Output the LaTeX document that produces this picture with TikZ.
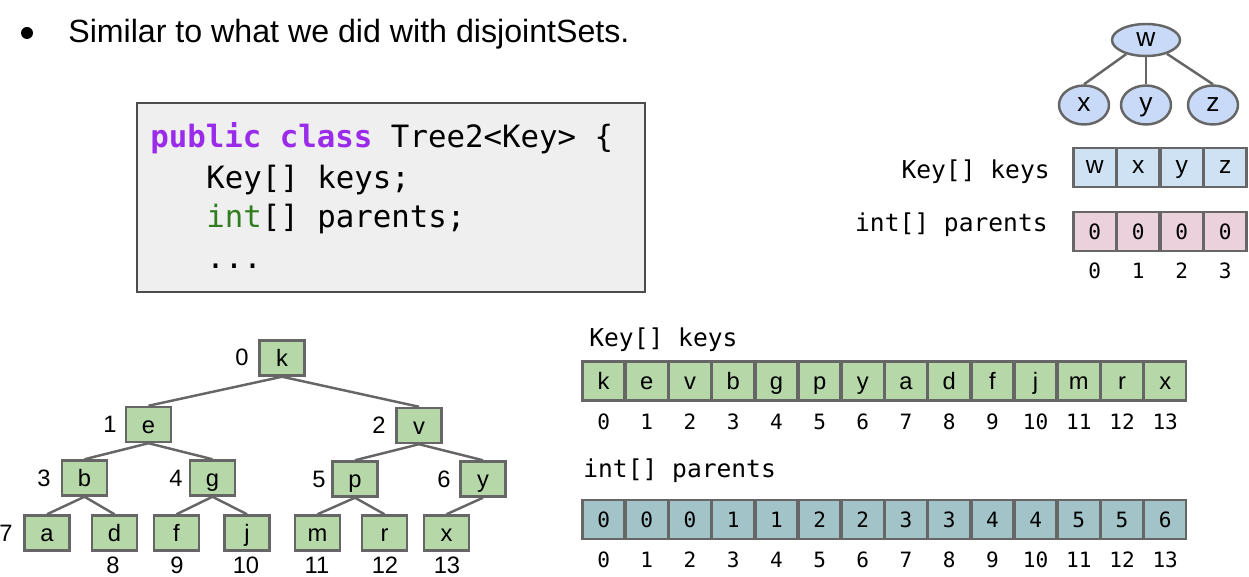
\documentclass[tikz,border=0pt]{standalone}
\usepackage{fontspec}
\setmainfont{Liberation Sans}
\setmonofont{DejaVu Sans Mono}
\usetikzlibrary{shapes.geometric}

\definecolor{linegray}{HTML}{666666}
\definecolor{keygreen}{HTML}{B6D7A8}
\definecolor{parentteal}{HTML}{A2C4C9}
\definecolor{nodeblue}{HTML}{C9DAF8}
\definecolor{smallblue}{HTML}{CFE2F3}
\definecolor{smallpink}{HTML}{EAD1DC}
\definecolor{codebg}{HTML}{EFEFEF}
\definecolor{kwpurple}{HTML}{9B2BEA}
\definecolor{intgreen}{HTML}{2F7D1F}

\tikzset{
  treebox/.style={draw=linegray, fill=keygreen, line width=1.4pt, minimum width=0.9cm, minimum height=0.7cm, inner sep=0pt, text height=9.8pt, text depth=0pt, font=\fontsize{13.5}{13.5}\selectfont},
  treeedge/.style={draw=linegray, line width=1.4pt},
  idxlabel/.style={inner sep=0pt, text height=9.8pt, text depth=0pt, font=\fontsize{13.5}{13.5}\selectfont},
  cell/.style={draw=linegray, line width=1.4pt, minimum width=0.84cm, minimum height=0.78cm, inner sep=0pt},
  keycell/.style={cell, fill=keygreen, text height=9.8pt, text depth=0pt, font=\fontsize{13.5}{13.5}\selectfont},
  parcell/.style={cell, fill=parentteal, font=\ttfamily\fontsize{12}{12}\selectfont},
  monoidx/.style={inner sep=0pt, font=\ttfamily\fontsize{12}{12}\selectfont},
  monolabel/.style={inner sep=0pt, font=\ttfamily\fontsize{14}{14}\selectfont},
  blob/.style={ellipse, draw=linegray, fill=nodeblue, line width=1.4pt, inner sep=0pt, text height=7.9pt, text depth=0pt, font=\fontsize{15}{15}\selectfont},
  codeline/.style={anchor=base west, inner sep=0pt, font=\ttfamily\fontsize{17.5}{17.5}\selectfont}
}

\begin{document}
\begin{tikzpicture}[x=0.02cm, y=-0.02cm]
\useasboundingbox (0,0) rectangle (1249,577);

% bullet line
\node[circle, fill=black, inner sep=0pt, minimum size=0.24cm] (bullet) at (27,33) {};
\node[anchor=base west, inner sep=0pt, font=\fontsize{18.3}{18.3}\selectfont] (intro) at (68,43) {Similar to what we did with disjointSets.};

% code box
\draw[fill=codebg, draw=black!70, line width=0.6pt] (137,103) rectangle (645,292);
\node[codeline] (code1) at (150,148) {\textcolor{kwpurple}{\bfseries public class} Tree2<Key> \{};
\node[codeline] (code2) at (206,189) {Key[] keys;};
\node[codeline] (code3) at (206,228) {\textcolor{intgreen}{int}[] parents;};
\node[codeline] (code4) at (206,269) {...};

% small tree
\node[blob, minimum width=1.36cm, minimum height=0.64cm] (w) at (1146,40) {w};
\node[blob, minimum width=1.0cm, minimum height=0.78cm] (nx) at (1084,105) {x};
\node[blob, minimum width=1.0cm, minimum height=0.78cm] (ny) at (1146,105) {y};
\node[blob, minimum width=1.0cm, minimum height=0.78cm] (nz) at (1213,105) {z};
\draw[treeedge] (w) -- (nx.north);
\draw[treeedge] (w) -- (ny.north);
\draw[treeedge] (w) -- (nz.north);

% small arrays
\node[monolabel, anchor=east] (smallkeys) at (1050,172) {Key[] keys};
\node[monolabel, anchor=east] (smallparents) at (1048,225) {int[] parents};
\foreach \v [count=\i from 0] in {w,x,y,z} {
  \node[cell, fill=smallblue, minimum width=0.85cm, text height=7.3pt, text depth=0pt, font=\fontsize{14}{14}\selectfont] (sk\i) at ({1073+43.5*(\i+0.5)},167.5) {\v};
  \node[cell, fill=smallpink, minimum width=0.85cm, font=\ttfamily\fontsize{12}{12}\selectfont] (sp\i) at ({1073+43.5*(\i+0.5)},231.5) {0};
  \node[monoidx] (si\i) at ({1073+43.5*(\i+0.5)},271) {\i};
}

% big tree
\node[treebox] (tk) at (282,358) {k};
\node[treebox] (te) at (148.5,424.5) {e};
\node[treebox] (tv) at (419,425.5) {v};
\node[treebox] (tb) at (84.5,478) {b};
\node[treebox] (tg) at (212.5,478) {g};
\node[treebox] (tp) at (355,479) {p};
\node[treebox] (ty) at (483,479) {y};
\node[treebox] (ta) at (47,533) {a};
\node[treebox] (td) at (114.5,533) {d};
\node[treebox] (tf) at (176.5,533) {f};
\node[treebox] (tj) at (247,533) {j};
\node[treebox] (tm) at (317.5,533) {m};
\node[treebox] (tr) at (384.5,533) {r};
\node[treebox] (tx) at (446.5,533) {x};

\draw[treeedge] (tk.south) -- (te.north);
\draw[treeedge] (tk.south) -- (tv.north);
\draw[treeedge] (te.south) -- (tb.north);
\draw[treeedge] (te.south) -- (tg.north);
\draw[treeedge] (tv.south) -- (tp.north);
\draw[treeedge] (tv.south) -- (ty.north);
\draw[treeedge] (tb.south) -- (ta.north);
\draw[treeedge] (tb.south) -- (td.north);
\draw[treeedge] (tg.south) -- (tf.north);
\draw[treeedge] (tg.south) -- (tj.north);
\draw[treeedge] (tp.south) -- (tm.north);
\draw[treeedge] (tp.south) -- (tr.north);
\draw[treeedge] (ty.south) -- (tx.north);

% tree indices
\node[idxlabel] (ik) at (242,357) {0};
\node[idxlabel] (ie) at (110,424) {1};
\node[idxlabel] (iv) at (379,425) {2};
\node[idxlabel] (ib) at (44,478) {3};
\node[idxlabel] (ig) at (176,478) {4};
\node[idxlabel] (ip) at (319,479) {5};
\node[idxlabel] (iy) at (444,479) {6};
\node[idxlabel] (ia) at (6,533) {7};
\node[idxlabel] (id) at (113,565) {8};
\node[idxlabel] (if) at (177,565) {9};
\node[idxlabel] (ij) at (246,565) {10};
\node[idxlabel] (im) at (317,565) {11};
\node[idxlabel] (ir) at (385,565) {12};
\node[idxlabel] (ix) at (447,565) {13};

% big arrays
\node[monolabel, anchor=west] (bigkeys) at (589,340) {Key[] keys};
\node[monolabel, anchor=west] (bigparents) at (583,471) {int[] parents};
\foreach \v [count=\i from 0] in {k,e,v,b,g,p,y,a,d,f,j,m,r,x} {
  \node[keycell] (bk\i) at ({582+43.2*(\i+0.5)},381) {\v};
  \node[monoidx] (bki\i) at ({582+43.2*(\i+0.5)},422) {\i};
}
\foreach \v [count=\i from 0] in {0,0,0,1,1,2,2,3,3,4,4,5,5,6} {
  \node[parcell] (bp\i) at ({582+43.2*(\i+0.5)},519.5) {\v};
  \node[monoidx] (bpi\i) at ({582+43.2*(\i+0.5)},560) {\i};
}
\end{tikzpicture}
\end{document}
